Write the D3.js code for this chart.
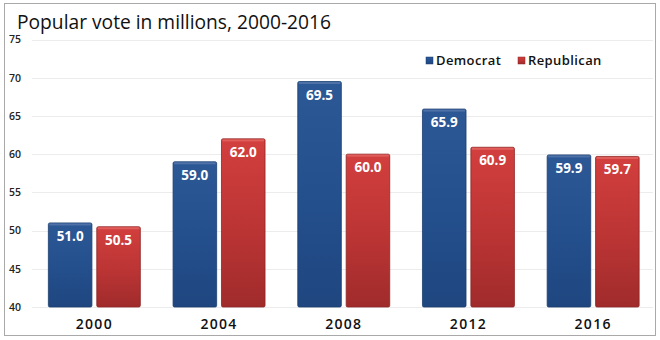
<!DOCTYPE html>
<html>
<head>
<meta charset="utf-8">
<script src="https://cdn.jsdelivr.net/npm/d3@7"></script>
<style>
  body { margin: 0; background: #fff; }
  svg { display: block; }
</style>
</head>
<body>
<svg id="chart"></svg>
<script>
// popular vote, millions
var years = ["2000", "2004", "2008", "2012", "2016"];
var parties = ["Democrat", "Republican"];
var democrat = [51.0, 59.0, 69.5, 65.9, 59.9];
var republican = [50.5, 62.0, 60.0, 60.9, 59.7];
var yTicks = [40, 45, 50, 55, 60, 65, 70, 75];

var width = 660, height = 340;

var svg = d3.select("#chart")
  .attr("width", width)
  .attr("height", height);

// gradient fills for the bars
var defs = svg.append("defs");
var partyColors = {
  Democrat: ["#2d5896", "#234f8c", "#1f467f"],
  Republican: ["#d23f3e", "#bb3434", "#a02b2b"]
};
parties.forEach(function(p) {
  var g = defs.append("linearGradient")
    .attr("id", "grad" + p)
    .attr("x1", 0).attr("y1", 0).attr("x2", 0).attr("y2", 1);
  g.append("stop").attr("offset", "0%").attr("stop-color", partyColors[p][0]);
  g.append("stop").attr("offset", "55%").attr("stop-color", partyColors[p][1]);
  g.append("stop").attr("offset", "100%").attr("stop-color", partyColors[p][2]);
});

// frame
svg.append("rect")
  .attr("x", 4.5).attr("y", 3.5)
  .attr("width", 651).attr("height", 332)
  .attr("fill", "#fff")
  .attr("stroke", "#a9a9a9")
  .attr("stroke-width", 1);

svg.append("text")
  .attr("x", 17)
  .attr("y", 29)
  .attr("textLength", 314)
  .attr("lengthAdjust", "spacingAndGlyphs")
  .style("font", "400 20px 'Open Sans'")
  .style("fill", "#111")
  .text("Popular vote in millions, 2000-2016");

var x0 = d3.scaleBand()
  .domain(years)
  .range([32, 655.5])
  .paddingInner(0.2625)
  .paddingOuter(0.13125);

var x1 = d3.scaleBand()
  .domain(parties)
  .range([0, x0.bandwidth()])
  .paddingInner(0.1);

var y = d3.scaleLinear()
  .domain([40, 75])
  .range([307, 39.5]);

// gridlines
svg.append("g").selectAll("line")
  .data(yTicks)
  .enter()
  .append("line")
  .attr("x1", 32)
  .attr("x2", 653)
  .attr("y1", function(d) { return Math.round(y(d)) + 0.5; })
  .attr("y2", function(d) { return Math.round(y(d)) + 0.5; })
  .style("stroke", "#ececec")
  .style("stroke-width", 1);

var yAxis = d3.axisLeft(y).tickValues(yTicks).tickSize(0).tickPadding(0);
var yg = svg.append("g")
  .attr("transform", "translate(21,0)")
  .call(yAxis);
yg.select(".domain").remove();
yg.selectAll("text")
  .style("font", "600 10.5px 'Open Sans'")
  .style("fill", "#222");

var rows = years.map(function(yr, i) {
  return { year: yr, values: [
    { party: "Democrat", value: democrat[i] },
    { party: "Republican", value: republican[i] }
  ]};
});

var groups = svg.selectAll("g.year")
  .data(rows)
  .enter()
  .append("g")
  .attr("class", "year")
  .attr("transform", function(d) { return "translate(" + x0(d.year) + ",0)"; });

var bars = groups.selectAll("g.bar")
  .data(function(d) { return d.values; })
  .enter()
  .append("g")
  .attr("class", "bar");

bars.append("rect")
  .attr("x", function(d) { return x1(d.party); })
  .attr("y", function(d) { return y(d.value); })
  .attr("width", x1.bandwidth())
  .attr("height", function(d) { return y(40) - y(d.value); })
  .attr("rx", 1.5)
  .attr("fill", function(d) { return "url(#grad" + d.party + ")"; })
  .attr("stroke", function(d) { return d.party == "Democrat" ? "#1a3d70" : "#8d2424"; })
  .attr("stroke-width", 0.8);

// light bevel on the top edge
bars.append("rect")
  .attr("x", function(d) { return x1(d.party) + 1; })
  .attr("y", function(d) { return y(d.value) + 0.5; })
  .attr("width", x1.bandwidth() - 2)
  .attr("height", 2)
  .attr("fill", function(d) { return d.party == "Democrat" ? "#5878ad" : "#e26664"; })
  .style("opacity", 0.8);

bars.append("text")
  .attr("x", function(d) { return x1(d.party) + x1.bandwidth() / 2; })
  .attr("y", function(d) { return y(d.value) + 18; })
  .attr("text-anchor", "middle")
  .style("font", "700 13.5px 'Open Sans'")
  .style("fill", "#fff")
  .text(function(d) { return d.value.toFixed(1); });

// year labels
var xAxis = d3.axisBottom(x0).tickSize(0).tickPadding(0);
var xg = svg.append("g")
  .attr("transform", "translate(0,319)")
  .call(xAxis);
xg.select(".domain").remove();
xg.selectAll("text")
  .style("font", "600 14px 'Open Sans'")
  .style("letter-spacing", "1.3px")
  .style("fill", "#111");

// legend
var legendX = [426, 518];
var legend = svg.selectAll("g.legend")
  .data(parties)
  .enter()
  .append("g")
  .attr("class", "legend")
  .attr("transform", function(d, i) { return "translate(" + legendX[i] + ",57)"; });

legend.append("rect")
  .attr("width", 7)
  .attr("height", 7)
  .attr("fill", function(d) { return "url(#grad" + d + ")"; })
  .attr("stroke", function(d) { return d == "Democrat" ? "#1a3d70" : "#8d2424"; })
  .attr("stroke-width", 0.5);

legend.append("text")
  .attr("x", 10)
  .attr("y", 8)
  .style("font", "600 13px 'Open Sans'")
  .style("letter-spacing", "0.4px")
  .style("fill", "#111")
  .text(function(d) { return d; });
</script>
</body>
</html>
